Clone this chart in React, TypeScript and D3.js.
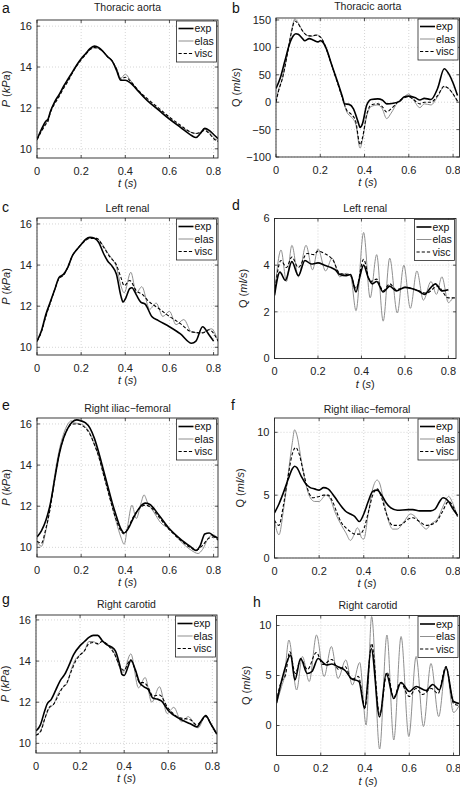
import React from 'react';
import * as d3 from 'd3';

type Pt = [number, number];

// ---------- data ----------
const xTicks = [0, 0.2, 0.4, 0.6, 0.8];
const pTicks = [10, 12, 14, 16];
const qTicksB = [-100, -50, 0, 50, 100, 150];
const qTicksD = [0, 2, 4, 6];
const qTicksF = [0, 5, 10];
const qTicksH = [0, 5, 10];
const seriesNames = ['exp', 'elas', 'visc'];
const panelLetters = ['a', 'b', 'c', 'd', 'e', 'f', 'g', 'h'];
const panelTitles = [
  'Thoracic aorta', 'Thoracic aorta',
  'Left renal', 'Left renal',
  'Right iliac\u2212femoral', 'Right iliac\u2212femoral',
  'Right carotid', 'Right carotid',
];

// a: thoracic aorta pressure (kPa)
const aExp: Pt[] = [[0,10.45],[0.02,10.95],[0.04,11.35],[0.05,11.45],[0.06,11.8],[0.08,12.3],[0.1,12.65],[0.12,13.05],[0.14,13.4],[0.16,13.75],[0.18,14.1],[0.2,14.4],[0.22,14.65],[0.24,14.9],[0.26,15.02],[0.28,14.95],[0.3,14.75],[0.32,14.5],[0.34,14.3],[0.36,13.85],[0.38,13.35],[0.4,13.35],[0.42,13.25],[0.44,13.05],[0.46,12.8],[0.5,12.35],[0.55,11.9],[0.6,11.45],[0.65,11.05],[0.7,10.65],[0.72,10.55],[0.74,10.75],[0.76,11.0],[0.78,10.9],[0.8,10.7],[0.82,10.5]];
const aElas: Pt[] = [[0,10.5],[0.02,10.9],[0.04,11.25],[0.05,11.4],[0.06,11.8],[0.08,12.25],[0.1,12.6],[0.12,13.0],[0.14,13.35],[0.16,13.7],[0.18,14.1],[0.2,14.4],[0.22,14.65],[0.24,14.85],[0.26,14.95],[0.28,14.9],[0.3,14.75],[0.32,14.5],[0.34,14.3],[0.36,13.95],[0.38,13.45],[0.4,13.65],[0.42,13.4],[0.44,13.1],[0.46,12.85],[0.5,12.4],[0.55,11.95],[0.6,11.5],[0.65,11.1],[0.7,10.8],[0.72,10.75],[0.74,10.8],[0.76,10.95],[0.78,10.8],[0.8,10.55],[0.82,10.4]];
const aVisc: Pt[] = [[0,10.45],[0.02,10.85],[0.04,11.2],[0.05,11.35],[0.06,11.75],[0.08,12.2],[0.1,12.55],[0.12,12.95],[0.14,13.3],[0.16,13.7],[0.18,14.05],[0.2,14.35],[0.22,14.6],[0.24,14.85],[0.26,14.95],[0.28,14.9],[0.3,14.75],[0.32,14.5],[0.34,14.3],[0.36,13.9],[0.38,13.4],[0.4,13.5],[0.42,13.35],[0.44,13.1],[0.46,12.85],[0.5,12.45],[0.55,12.0],[0.6,11.55],[0.65,11.15],[0.7,10.8],[0.72,10.75],[0.74,10.8],[0.76,10.9],[0.78,10.75],[0.8,10.5],[0.82,10.35]];

// b: thoracic aorta flow (ml/s)
const bExp: Pt[] = [[0,25],[0.02,45],[0.04,75],[0.06,105],[0.08,122],[0.09,125],[0.1,124],[0.12,116],[0.13,112],[0.15,116],[0.17,113],[0.19,110],[0.2,112],[0.21,110],[0.23,95],[0.25,70],[0.28,35],[0.3,10],[0.31,-3],[0.33,-4],[0.35,-12],[0.37,-35],[0.38,-46],[0.39,-40],[0.41,-5],[0.43,5],[0.46,6],[0.48,4],[0.5,-3],[0.53,-2],[0.56,2],[0.58,10],[0.6,11],[0.63,8],[0.65,4],[0.67,7],[0.7,5],[0.73,25],[0.76,61],[0.78,52],[0.8,35],[0.82,12]];
const bElas: Pt[] = [[0,0],[0.01,20],[0.03,45],[0.05,85],[0.07,130],[0.085,152],[0.1,145],[0.12,130],[0.14,122],[0.16,120],[0.18,123],[0.2,120],[0.22,105],[0.24,82],[0.27,45],[0.3,8],[0.32,-18],[0.34,-27],[0.36,-40],[0.38,-84],[0.39,-70],[0.41,-25],[0.43,-8],[0.46,-5],[0.48,-12],[0.5,-30],[0.52,-20],[0.55,0],[0.58,10],[0.6,15],[0.62,5],[0.65,-10],[0.67,-3],[0.7,-5],[0.73,10],[0.76,28],[0.78,25],[0.8,15],[0.82,0]];
const bVisc: Pt[] = [[0,0],[0.01,18],[0.03,45],[0.05,85],[0.07,128],[0.085,148],[0.1,143],[0.12,130],[0.14,122],[0.16,121],[0.18,122],[0.2,119],[0.22,105],[0.24,82],[0.27,45],[0.3,8],[0.32,-15],[0.34,-22],[0.36,-35],[0.38,-78],[0.39,-66],[0.41,-22],[0.43,-5],[0.46,-3],[0.48,-8],[0.5,-18],[0.52,-12],[0.55,0],[0.58,8],[0.6,10],[0.62,5],[0.65,-3],[0.67,0],[0.7,0],[0.73,12],[0.76,29],[0.78,25],[0.8,15],[0.82,2]];

// c: left renal pressure
const cExp: Pt[] = [[0,10.3],[0.02,10.8],[0.04,11.6],[0.06,12.2],[0.08,12.8],[0.1,13.4],[0.12,13.55],[0.14,13.9],[0.16,14.45],[0.18,14.75],[0.2,15.0],[0.22,15.25],[0.24,15.35],[0.26,15.3],[0.28,15.1],[0.3,14.6],[0.32,14.2],[0.34,13.95],[0.36,13.55],[0.38,12.5],[0.39,12.2],[0.4,12.35],[0.42,12.85],[0.43,12.9],[0.45,12.55],[0.47,12.2],[0.49,12.1],[0.52,11.5],[0.55,11.3],[0.6,11.0],[0.65,10.65],[0.7,10.2],[0.72,10.3],[0.75,11.0],[0.78,10.6],[0.8,10.3]];
const cElas: Pt[] = [[0,10.3],[0.02,10.75],[0.04,11.5],[0.06,12.15],[0.08,12.8],[0.1,13.35],[0.12,13.5],[0.14,13.9],[0.16,14.45],[0.18,14.75],[0.2,15.0],[0.22,15.2],[0.24,15.3],[0.27,15.3],[0.3,14.95],[0.32,14.6],[0.34,14.3],[0.36,13.9],[0.38,13.0],[0.395,12.65],[0.425,13.65],[0.45,12.65],[0.475,12.95],[0.51,11.85],[0.54,12.15],[0.57,11.5],[0.6,11.75],[0.63,11.1],[0.665,11.35],[0.7,10.75],[0.74,10.7],[0.76,10.75],[0.79,10.9],[0.82,10.3]];
const cVisc: Pt[] = [[0,10.3],[0.02,10.75],[0.04,11.5],[0.06,12.15],[0.08,12.8],[0.1,13.35],[0.12,13.5],[0.14,13.9],[0.16,14.45],[0.18,14.75],[0.2,15.0],[0.22,15.2],[0.24,15.3],[0.27,15.3],[0.3,14.9],[0.33,14.4],[0.36,14.0],[0.38,13.4],[0.395,13.0],[0.42,13.25],[0.45,12.75],[0.48,12.55],[0.5,12.3],[0.55,11.9],[0.6,11.5],[0.65,11.15],[0.7,10.75],[0.75,10.7],[0.78,10.85],[0.82,10.3]];

// d: left renal flow
const dExp: Pt[] = [[0,2.7],[0.025,3.7],[0.05,3.35],[0.08,4.15],[0.11,3.55],[0.14,4.2],[0.17,4.05],[0.2,4.1],[0.23,4.0],[0.26,3.9],[0.28,3.8],[0.3,3.6],[0.33,3.55],[0.35,3.6],[0.375,2.85],[0.39,3.4],[0.41,4.0],[0.43,3.5],[0.45,3.2],[0.47,3.3],[0.5,2.85],[0.53,3.1],[0.56,2.9],[0.6,3.05],[0.63,3.0],[0.66,2.9],[0.69,2.75],[0.72,3.05],[0.74,3.2],[0.77,2.9],[0.8,2.95]];
const dElas: Pt[] = [[0,2.7],[0.03,4.65],[0.055,3.3],[0.08,4.85],[0.11,3.5],[0.145,4.85],[0.175,3.8],[0.2,4.7],[0.235,3.75],[0.265,4.3],[0.3,3.5],[0.33,3.65],[0.35,3.55],[0.375,2.05],[0.41,5.4],[0.44,2.6],[0.47,4.45],[0.5,1.6],[0.53,4.3],[0.565,1.95],[0.595,4.0],[0.625,2.15],[0.655,3.75],[0.685,2.5],[0.72,3.3],[0.745,2.75],[0.77,3.5],[0.8,2.4],[0.82,2.6]];
const dVisc: Pt[] = [[0,2.8],[0.03,4.2],[0.055,3.9],[0.08,4.35],[0.11,3.9],[0.15,4.5],[0.18,4.45],[0.2,4.6],[0.23,4.5],[0.27,4.2],[0.3,3.65],[0.33,3.6],[0.35,3.55],[0.375,3.0],[0.41,4.25],[0.44,3.3],[0.47,3.4],[0.5,2.9],[0.53,3.2],[0.56,2.95],[0.6,3.05],[0.65,2.95],[0.7,2.8],[0.75,3.1],[0.8,2.6],[0.835,2.6]];

// e: right iliac-femoral pressure
const eExp: Pt[] = [[0,10.5],[0.02,10.8],[0.04,11.3],[0.06,12.1],[0.08,13.3],[0.1,14.5],[0.12,15.3],[0.14,15.8],[0.16,16.1],[0.18,16.2],[0.2,16.15],[0.22,16.05],[0.24,15.8],[0.26,15.3],[0.28,14.6],[0.3,13.8],[0.32,13.0],[0.34,12.2],[0.36,11.5],[0.38,10.9],[0.395,10.7],[0.41,10.85],[0.44,11.5],[0.47,12.0],[0.49,12.15],[0.51,12.1],[0.55,11.6],[0.6,10.9],[0.65,10.4],[0.7,10.0],[0.72,9.85],[0.74,10.1],[0.76,10.65],[0.78,10.7],[0.8,10.55],[0.82,10.45]];
const eElas: Pt[] = [[0,10.3],[0.02,10.05],[0.04,10.8],[0.06,12.0],[0.08,13.5],[0.1,14.7],[0.12,15.5],[0.14,16.0],[0.155,16.15],[0.17,16.05],[0.2,16.0],[0.22,15.85],[0.24,15.55],[0.26,15.0],[0.28,14.4],[0.3,13.6],[0.32,12.8],[0.34,12.0],[0.36,11.2],[0.38,10.5],[0.395,10.15],[0.41,11.0],[0.43,12.05],[0.45,11.4],[0.47,12.1],[0.485,12.55],[0.5,12.2],[0.53,11.7],[0.56,11.2],[0.6,10.9],[0.65,10.3],[0.7,9.85],[0.73,9.7],[0.75,9.9],[0.78,10.5],[0.8,10.6],[0.82,10.4]];
const eVisc: Pt[] = [[0,10.3],[0.02,10.2],[0.04,10.9],[0.06,11.9],[0.08,13.3],[0.1,14.5],[0.12,15.3],[0.14,15.8],[0.16,16.0],[0.18,16.0],[0.2,15.95],[0.22,15.8],[0.24,15.5],[0.26,15.0],[0.28,14.4],[0.3,13.6],[0.32,12.8],[0.34,12.0],[0.36,11.3],[0.38,10.8],[0.395,10.65],[0.41,10.9],[0.44,11.55],[0.47,11.95],[0.49,12.05],[0.52,11.9],[0.55,11.5],[0.6,10.85],[0.65,10.35],[0.7,9.95],[0.72,9.85],[0.75,10.1],[0.78,10.45],[0.8,10.5],[0.82,10.35]];

// f: right iliac-femoral flow
const fExp: Pt[] = [[0,3.6],[0.02,4.3],[0.04,5.2],[0.06,6.2],[0.08,7.1],[0.09,7.3],[0.1,7.2],[0.12,6.5],[0.14,5.9],[0.16,5.6],[0.18,5.5],[0.2,5.4],[0.22,5.6],[0.24,5.5],[0.26,5.1],[0.28,4.6],[0.3,4.1],[0.32,3.7],[0.34,3.5],[0.36,3.3],[0.38,2.9],[0.4,3.5],[0.42,4.5],[0.44,5.3],[0.46,5.4],[0.48,5.0],[0.5,4.4],[0.52,4.0],[0.55,3.8],[0.6,3.85],[0.62,3.85],[0.65,3.75],[0.7,3.75],[0.72,3.9],[0.74,4.5],[0.755,4.8],[0.78,4.5],[0.8,3.9],[0.82,3.4]];
const fElas: Pt[] = [[0,2.9],[0.02,1.85],[0.04,3.8],[0.06,6.5],[0.08,9.2],[0.09,10.2],[0.1,9.8],[0.12,7.8],[0.14,5.9],[0.16,4.8],[0.18,4.5],[0.2,4.5],[0.23,5.0],[0.25,4.7],[0.27,3.7],[0.3,2.6],[0.32,2.0],[0.34,1.4],[0.36,2.0],[0.37,2.4],[0.38,2.2],[0.39,1.6],[0.4,1.5],[0.42,3.5],[0.44,5.5],[0.46,6.2],[0.47,6.0],[0.49,4.5],[0.51,3.0],[0.53,2.3],[0.55,2.3],[0.58,2.9],[0.61,3.5],[0.63,3.3],[0.66,2.6],[0.68,2.3],[0.7,2.7],[0.73,3.1],[0.76,4.3],[0.78,4.9],[0.8,4.3],[0.82,3.3]];
const fVisc: Pt[] = [[0,3.0],[0.02,2.6],[0.04,4.2],[0.06,6.4],[0.08,8.3],[0.095,8.8],[0.11,8.3],[0.13,6.8],[0.15,5.4],[0.17,4.8],[0.2,4.9],[0.22,5.0],[0.24,5.0],[0.26,4.5],[0.28,3.6],[0.3,2.8],[0.32,2.4],[0.34,2.1],[0.36,1.9],[0.38,1.9],[0.4,2.3],[0.42,3.6],[0.44,5.0],[0.46,5.5],[0.48,4.8],[0.5,3.6],[0.53,2.6],[0.56,2.6],[0.6,3.1],[0.62,3.2],[0.65,2.9],[0.68,2.6],[0.72,2.8],[0.75,3.6],[0.78,4.5],[0.8,4.1],[0.82,3.3]];

// g: right carotid pressure
const gExp: Pt[] = [[0,10.6],[0.02,10.9],[0.04,11.6],[0.05,11.9],[0.07,12.15],[0.09,12.6],[0.11,13.05],[0.13,13.35],[0.15,13.8],[0.17,14.3],[0.2,14.75],[0.22,14.95],[0.24,15.15],[0.26,15.25],[0.28,15.25],[0.3,15.0],[0.32,14.8],[0.34,14.7],[0.36,14.5],[0.38,13.8],[0.39,13.35],[0.4,13.3],[0.42,13.8],[0.43,14.05],[0.45,13.6],[0.47,12.95],[0.49,12.75],[0.51,12.6],[0.53,12.2],[0.55,12.15],[0.57,12.05],[0.6,11.6],[0.65,11.2],[0.7,10.95],[0.73,10.8],[0.75,11.1],[0.77,11.35],[0.79,11.0],[0.82,10.45]];
const gElas: Pt[] = [[0,10.4],[0.02,10.6],[0.04,11.2],[0.06,11.7],[0.08,11.9],[0.1,12.4],[0.12,12.7],[0.14,12.9],[0.16,13.6],[0.18,14.1],[0.2,14.3],[0.22,14.5],[0.24,14.95],[0.26,14.95],[0.28,14.8],[0.3,14.95],[0.32,14.85],[0.34,14.65],[0.36,14.3],[0.375,13.8],[0.395,13.45],[0.43,14.35],[0.465,12.7],[0.495,13.2],[0.525,12.0],[0.56,12.75],[0.595,11.45],[0.625,11.75],[0.66,11.05],[0.69,11.3],[0.735,10.75],[0.77,11.35],[0.8,10.8],[0.82,10.45]];
const gVisc: Pt[] = [[0,10.4],[0.02,10.55],[0.04,11.2],[0.06,11.75],[0.08,11.9],[0.1,12.3],[0.12,12.7],[0.14,12.95],[0.16,13.5],[0.18,14.0],[0.2,14.3],[0.22,14.5],[0.24,14.85],[0.26,14.9],[0.28,14.85],[0.3,14.95],[0.32,14.85],[0.34,14.6],[0.36,14.25],[0.38,13.75],[0.4,13.55],[0.42,13.95],[0.43,14.05],[0.45,13.55],[0.47,12.95],[0.49,12.95],[0.51,12.7],[0.53,12.3],[0.56,12.35],[0.6,11.7],[0.65,11.25],[0.7,11.15],[0.73,10.9],[0.75,11.1],[0.77,11.3],[0.8,10.8],[0.82,10.45]];

// h: right carotid flow
const hExp: Pt[] = [[0,2.25],[0.03,5.05],[0.064,7.05],[0.083,4.55],[0.109,6.7],[0.139,5.2],[0.16,5.4],[0.188,6.7],[0.226,6.05],[0.25,6.15],[0.28,5.85],[0.31,5.5],[0.338,4.7],[0.373,4.4],[0.398,1.7],[0.428,7.7],[0.466,0.85],[0.496,5.2],[0.53,2.7],[0.563,4.3],[0.6,3.4],[0.631,3.9],[0.676,3.5],[0.706,4.1],[0.736,3.55],[0.766,5.8],[0.8,2.4],[0.825,2.2]];
const hElas: Pt[] = [[0,2.2],[0.023,3.9],[0.035,4.8],[0.056,8.55],[0.091,3.55],[0.117,6.9],[0.148,4.4],[0.181,9.05],[0.215,4.9],[0.248,7.9],[0.278,4.7],[0.313,6.55],[0.343,4.05],[0.376,6.3],[0.405,0.05],[0.43,10.9],[0.466,-2.35],[0.499,9.05],[0.53,-1.45],[0.563,8.9],[0.598,-1.1],[0.631,6.9],[0.664,-0.1],[0.698,6.2],[0.733,0.9],[0.766,5.9],[0.8,1.3],[0.825,2.0]];
const hVisc: Pt[] = [[0,2.4],[0.02,4.3],[0.04,5.0],[0.06,7.4],[0.085,5.2],[0.11,6.6],[0.14,5.6],[0.18,7.3],[0.21,6.1],[0.25,6.6],[0.28,5.6],[0.31,5.9],[0.34,4.6],[0.37,4.9],[0.4,1.8],[0.43,8.2],[0.466,1.1],[0.5,5.3],[0.53,2.8],[0.56,4.3],[0.6,2.9],[0.63,3.7],[0.66,3.1],[0.7,3.7],[0.73,3.2],[0.766,5.9],[0.8,2.2],[0.825,2.0]];

// ---------- layout ----------
const W = 460;
const H = 788;
const FONT = '"Liberation Sans", Arial, Helvetica, sans-serif';

interface Layout {
  left: number; right: number; top: number; bottom: number;
  xMax: number; yMin: number; yMax: number;
  ylabDx: number; titleDy: number; letterX: number; letterY: number;
}

const layouts: Layout[] = [
  { left: 37, right: 218, top: 20, bottom: 158, xMax: 0.82, yMin: 9.55, yMax: 16.3, ylabDx: -27, titleDy: -9, letterX: 2, letterY: 13 },
  { left: 276, right: 459.5, top: 18, bottom: 157, xMax: 0.829, yMin: -100, yMax: 153.6, ylabDx: -36, titleDy: -8, letterX: 232, letterY: 13 },
  { left: 37, right: 218, top: 218, bottom: 355, xMax: 0.82, yMin: 9.625, yMax: 16.29, ylabDx: -27, titleDy: -6, letterX: 2, letterY: 212 },
  { left: 274.5, right: 456, top: 218.5, bottom: 358.5, xMax: 0.835, yMin: 0, yMax: 6, ylabDx: -28, titleDy: -7, letterX: 232, letterY: 210 },
  { left: 37, right: 218, top: 418, bottom: 557, xMax: 0.82, yMin: 9.53, yMax: 16.29, ylabDx: -27, titleDy: -6, letterX: 2, letterY: 410 },
  { left: 274.5, right: 459.5, top: 418, bottom: 558, xMax: 0.829, yMin: 0, yMax: 11.14, ylabDx: -31, titleDy: -5, letterX: 231, letterY: 410 },
  { left: 36, right: 217, top: 615, bottom: 753, xMax: 0.821, yMin: 9.53, yMax: 16.24, ylabDx: -27, titleDy: -7, letterX: 2, letterY: 604 },
  { left: 276.5, right: 459.5, top: 615.5, bottom: 755.5, xMax: 0.827, yMin: -3, yMax: 11, ylabDx: -26.5, titleDy: -6.5, letterX: 253, letterY: 607 },
];

const panelSeries: Pt[][][] = [
  [aExp, aElas, aVisc], [bExp, bElas, bVisc],
  [cExp, cElas, cVisc], [dExp, dElas, dVisc],
  [eExp, eElas, eVisc], [fExp, fElas, fVisc],
  [gExp, gElas, gVisc], [hExp, hElas, hVisc],
];
const panelYTicks = [pTicks, qTicksB, pTicks, qTicksD, pTicks, qTicksF, pTicks, qTicksH];
const panelIsPressure = [true, false, true, false, true, false, true, false];

const seriesStyle = [
  { stroke: '#000', width: 1.6, dash: undefined as string | undefined },
  { stroke: '#8f8f8f', width: 1, dash: undefined as string | undefined },
  { stroke: '#000', width: 1.1, dash: '3.2,2' },
];

function Panel({ i }: { i: number }) {
  const L = layouts[i];
  const x = d3.scaleLinear().domain([0, L.xMax]).range([L.left, L.right]);
  const y = d3.scaleLinear().domain([L.yMin, L.yMax]).range([L.bottom, L.top]);
  const line = d3.line<Pt>().x(d => x(d[0])).y(d => y(d[1])).curve(d3.curveMonotoneX);
  const yTicks = panelYTicks[i];
  const cx = (L.left + L.right) / 2;
  const cy = (L.top + L.bottom) / 2;
  const clipId = `clip-${i}`;
  const lgW = 40, lgH = 41;
  const lgX = L.right - lgW - 1.5;
  const lgY = L.top + 1;
  const drawOrder = [1, 2, 0];
  return (
    <g>
      <defs>
        <clipPath id={clipId}>
          <rect x={L.left} y={L.top} width={L.right - L.left} height={L.bottom - L.top} />
        </clipPath>
      </defs>
      <rect x={L.left} y={L.top} width={L.right - L.left} height={L.bottom - L.top} fill="#fff" />
      {/* grid */}
      {xTicks.map(t => (
        <line key={'gx' + t} x1={x(t)} x2={x(t)} y1={L.top} y2={L.bottom}
          stroke="#c4c4c4" strokeWidth={0.7} strokeDasharray="1,2" />
      ))}
      {yTicks.map(t => (
        <line key={'gy' + t} x1={L.left} x2={L.right} y1={y(t)} y2={y(t)}
          stroke="#c4c4c4" strokeWidth={0.7} strokeDasharray="1,2" />
      ))}
      {/* series */}
      <g clipPath={`url(#${clipId})`}>
        {drawOrder.map(k => (
          <path key={k} d={line(panelSeries[i][k]) || ''} fill="none"
            stroke={seriesStyle[k].stroke} strokeWidth={seriesStyle[k].width}
            strokeDasharray={seriesStyle[k].dash} strokeLinejoin="round" />
        ))}
      </g>
      {/* ticks */}
      {xTicks.map(t => (
        <g key={'tx' + t}>
          <line x1={x(t)} x2={x(t)} y1={L.bottom} y2={L.bottom - 3} stroke="#262626" strokeWidth={0.8} />
          <line x1={x(t)} x2={x(t)} y1={L.top} y2={L.top + 3} stroke="#262626" strokeWidth={0.8} />
          <text x={x(t)} y={L.bottom + 16.5} textAnchor="middle" fontSize={11} fill="#222">{String(t)}</text>
        </g>
      ))}
      {yTicks.map(t => (
        <g key={'ty' + t}>
          <line x1={L.left} x2={L.left + 3} y1={y(t)} y2={y(t)} stroke="#262626" strokeWidth={0.8} />
          <line x1={L.right} x2={L.right - 3} y1={y(t)} y2={y(t)} stroke="#262626" strokeWidth={0.8} />
          <text x={L.left - 5} y={y(t)} dy="0.36em" textAnchor="end" fontSize={11} fill="#222">
            {t < 0 ? '\u2212' + Math.abs(t) : String(t)}
          </text>
        </g>
      ))}
      {/* box */}
      <rect x={L.left} y={L.top} width={L.right - L.left} height={L.bottom - L.top}
        fill="none" stroke="#262626" strokeWidth={0.9} />
      {/* labels */}
      <text x={cx} y={L.bottom + 29} textAnchor="middle" fontSize={11} fill="#222">
        <tspan fontStyle="italic">t</tspan> (<tspan fontStyle="italic">s</tspan>)
      </text>
      <text transform={`translate(${L.left + L.ylabDx},${cy}) rotate(-90)`} textAnchor="middle" fontSize={11} fill="#222">
        {panelIsPressure[i] ? (
          <><tspan fontStyle="italic">P</tspan> (<tspan fontStyle="italic">kPa</tspan>)</>
        ) : (
          <>Q (<tspan fontStyle="italic">ml/s</tspan>)</>
        )}
      </text>
      <text x={cx} y={L.top + L.titleDy} textAnchor="middle" fontSize={10.5} fill="#222">{panelTitles[i]}</text>
      <text x={L.letterX} y={L.letterY} fontSize={14} fill="#111">{panelLetters[i]}</text>
      {/* legend */}
      <rect x={lgX} y={lgY} width={lgW} height={lgH} fill="#fff" stroke="#262626" strokeWidth={0.8} />
      {seriesNames.map((n, k) => {
        const ry = lgY + 7.5 + k * 12.5;
        return (
          <g key={n}>
            <line x1={lgX + 2} x2={lgX + 17} y1={ry} y2={ry} stroke={seriesStyle[k].stroke}
              strokeWidth={seriesStyle[k].width} strokeDasharray={seriesStyle[k].dash} />
            <text x={lgX + 18} y={ry} dy="0.36em" fontSize={10.5} fill="#111">{n}</text>
          </g>
        );
      })}
    </g>
  );
}

export default function App() {
  return (
    <svg width={W} height={H} viewBox={`0 0 ${W} ${H}`}
      style={{ position: 'absolute', left: 0, top: 0, background: '#fff', fontFamily: FONT }}>
      <rect x={0} y={0} width={W} height={H} fill="#fff" />
      {layouts.map((_, i) => <Panel key={i} i={i} />)}
    </svg>
  );
}
